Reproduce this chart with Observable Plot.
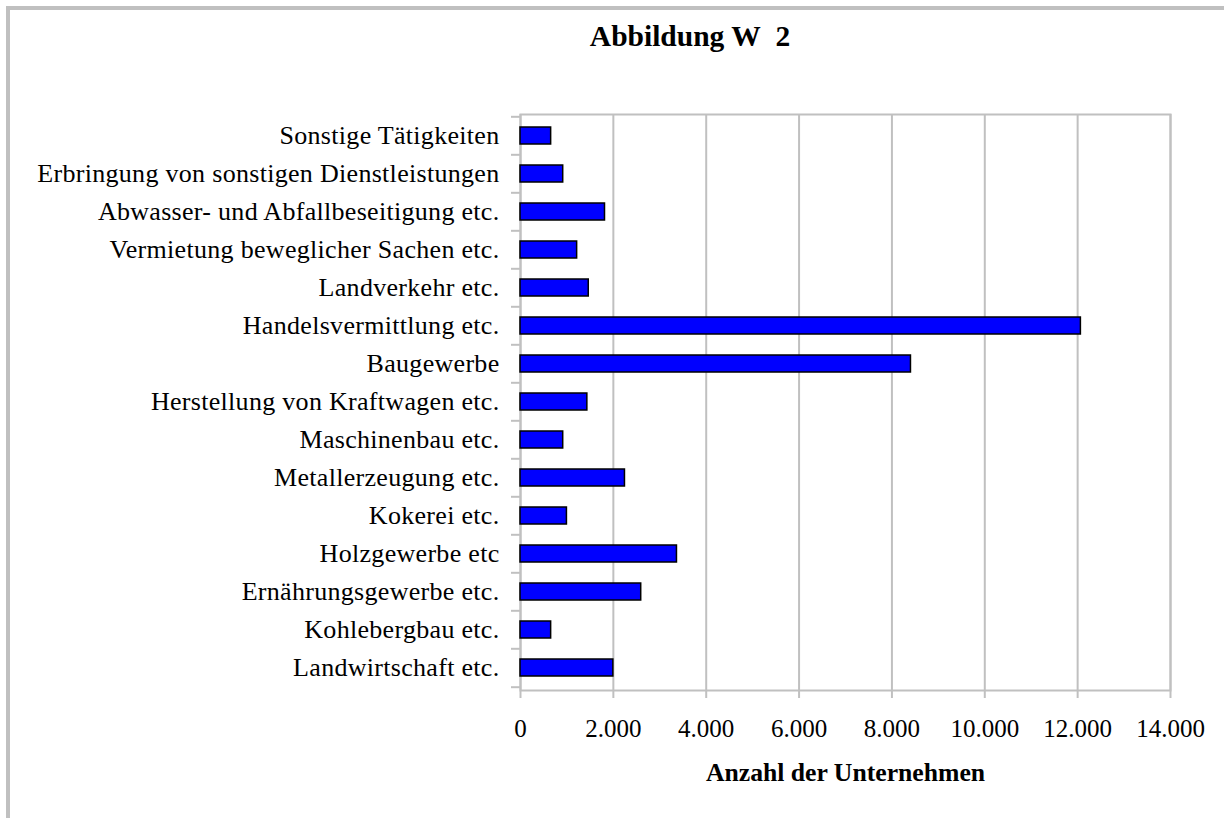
<!DOCTYPE html>
<html>
<head>
<meta charset="utf-8">
<script src="https://cdn.jsdelivr.net/npm/d3@7"></script>
<script src="https://cdn.jsdelivr.net/npm/@observablehq/plot@0.6"></script>
<style>
  html, body { margin: 0; padding: 0; background: white; overflow: hidden; }
  #page { position: relative; width: 1224px; height: 818px; }
  #border { position: absolute; left: 6px; top: 6px; width: 1400px; height: 1000px;
            border-left: 4px solid #c0c0c0; border-top: 4px solid #c0c0c0; }
  #title { position: absolute; left: 0; top: 0; width: 1224px; height: 70px; box-sizing: border-box;
           padding-left: 156px; padding-top: 22px; text-align: center;
           font-family: 'Liberation Serif', 'Times New Roman', serif; font-weight: bold;
           font-size: 29.5px; line-height: 29px; color: black; }
  #chart { position: absolute; left: 0; top: 70px; }
</style>
</head>
<body>
<div id="page">
  <div id="border"></div>
  <div id="title">Abbildung W&nbsp; 2</div>
  <div id="chart"></div>
</div>
<script>
const categories = [
  "Sonstige Tätigkeiten",
  "Erbringung von sonstigen Dienstleistungen",
  "Abwasser- und Abfallbeseitigung etc.",
  "Vermietung beweglicher Sachen etc.",
  "Landverkehr etc.",
  "Handelsvermittlung etc.",
  "Baugewerbe",
  "Herstellung von Kraftwagen etc.",
  "Maschinenbau etc.",
  "Metallerzeugung etc.",
  "Kokerei etc.",
  "Holzgewerbe etc",
  "Ernährungsgewerbe etc.",
  "Kohlebergbau etc.",
  "Landwirtschaft etc."
];
const values = [660, 920, 1820, 1220, 1470, 12070, 8410, 1440, 920, 2250, 1000, 3370, 2600, 660, 2000];
const xTicks = [0, 2000, 4000, 6000, 8000, 10000, 12000, 14000];
const xLabel = "Anzahl der Unternehmen";

const data = categories.map((c, i) => ({category: c, value: values[i]}));
const fmt = d => d3.format(",")(d).replace(/,/g, ".");
const step = (690 - 114) / categories.length;
const gray = "#c0c0c0";

const chart = Plot.plot({
  width: 1224,
  height: 748,
  marginLeft: 520,
  marginRight: 54,
  marginTop: 44,
  marginBottom: 128,
  style: {
    fontFamily: "'Liberation Serif', 'Times New Roman', serif",
    fontSize: "25px",
    color: "black",
    background: "transparent",
    overflow: "visible"
  },
  x: {domain: [0, 14000], ticks: xTicks},
  y: {domain: categories, paddingInner: 0.55, paddingOuter: 0.275},
  marks: [
    Plot.gridX(xTicks, {stroke: gray, strokeOpacity: 1, strokeWidth: 2}),
    Plot.frame({stroke: gray, strokeWidth: 2}),
    Plot.axisY(categories, {tickSize: 9, tickFormat: () => "", dy: -step / 2, stroke: gray, strokeWidth: 2, strokeOpacity: 1, label: null}),
    Plot.axisY([categories[categories.length - 1]], {tickSize: 9, tickFormat: () => "", dy: step / 2, stroke: gray, strokeWidth: 2, strokeOpacity: 1, label: null}),
    Plot.barX(data, {x: "value", y: "category", fill: "#0000ff", stroke: "black", strokeWidth: 1.5}),
    Plot.axisY({tickSize: 0, tickPadding: 21, label: null, fill: "black", fontSize: 26}),
    Plot.axisX(xTicks, {tickSize: 8, tickPadding: 21, tickFormat: fmt, stroke: gray, strokeWidth: 2, strokeOpacity: 1, fill: "black", label: null}),
    Plot.text([xLabel], {frameAnchor: "bottom", lineAnchor: "middle", dy: 82, fontWeight: "bold", fontSize: 25.7, fill: "black"})
  ]
});
chart.querySelectorAll('[aria-label="y-axis tick label"]').forEach(g => { g.style.letterSpacing = "0.3px"; });
document.getElementById("chart").appendChild(chart);
</script>
</body>
</html>
